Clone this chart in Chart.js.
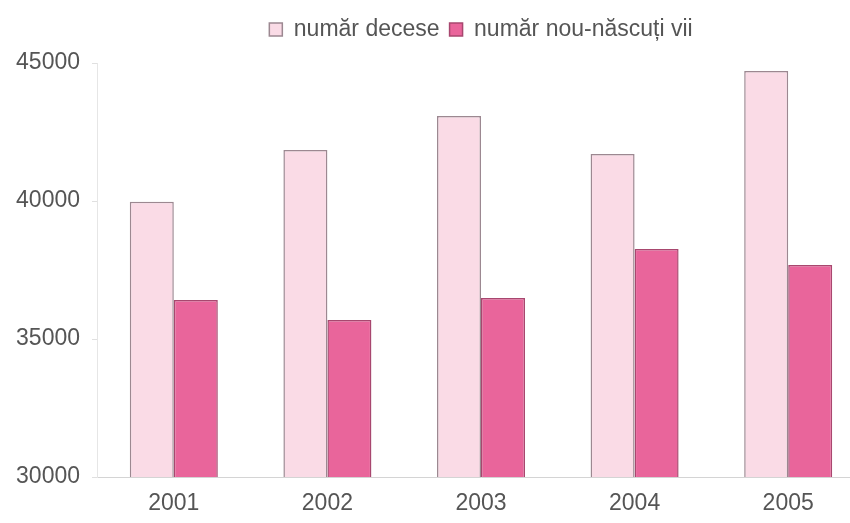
<!DOCTYPE html>
<html>
<head>
<meta charset="utf-8">
<script src="https://cdn.jsdelivr.net/npm/chart.js@4.4.0/dist/chart.umd.min.js"></script>
<style>
    body { margin: 0; overflow: hidden; background: #fff; }
    #wrap { width: 850px; height: 523px; overflow: hidden; }
</style>
</head>
<body>
<div id="wrap"><canvas id="myChart" width="865" height="523"></canvas></div>
<script>
// date
const ani = ['2001', '2002', '2003', '2004', '2005'];
const decese = [39970, 41850, 43080, 41700, 44710];
const nouNascuti = [36410, 35690, 36490, 38260, 37680];
const yMin = 30000, yMax = 45000, yPas = 5000;

Chart.defaults.font.family = 'Liberation Sans';
Chart.defaults.color = '#555';

// legenda e centrata peste zona graficului, nu peste tot canvasul
const mutaLegenda = {
    id: 'mutaLegenda',
    afterLayout(chart) {
        chart.legend.left += 97;
        chart.legend.top -= 12;
    }
};

const ctx = document.getElementById('myChart').getContext('2d');
new Chart(ctx, {
    type: 'bar',
    data: {
        labels: ani,
        datasets: [{
            label: 'număr decese',
            data: decese,
            backgroundColor: '#fadbe6',
            borderColor: '#9c8891',
            borderWidth: 1.5,
            borderSkipped: 'bottom'
        }, {
            label: 'număr nou-născuți vii',
            data: nouNascuti,
            backgroundColor: '#e9659b',
            borderColor: '#a8476f',
            borderWidth: 1.5,
            borderSkipped: 'bottom'
        }]
    },
    options: {
        responsive: false,
        animation: false,
        layout: { padding: { left: 0, right: 0, top: 20, bottom: 0 } },
        plugins: {
            legend: {
                labels: {
                    boxWidth: 13,
                    boxHeight: 13,
                    padding: 10,
                    color: '#555',
                    font: { size: 23 }
                }
            },
            tooltip: { enabled: false }
        },
        datasets: {
            bar: { categoryPercentage: 0.573, barPercentage: 1 }
        },
        scales: {
            x: {
                afterFit: function (scale) { scale.height = 46; },
                grid: { display: false },
                border: { color: '#d4d4d4', width: 1 },
                ticks: { padding: 5, color: '#555', font: { size: 23 } }
            },
            y: {
                min: yMin,
                max: yMax,
                afterFit: function (scale) { scale.width = 97; },
                grid: { drawOnChartArea: false, drawTicks: true, tickLength: 5, color: '#e0e0e0' },
                border: { color: '#e6e6e6', width: 1 },
                ticks: {
                    stepSize: yPas,
                    padding: 12,
                    color: '#555',
                    font: { size: 23 },
                    callback: v => String(v)
                }
            }
        }
    },
    plugins: [mutaLegenda]
});
</script>
</body>
</html>
